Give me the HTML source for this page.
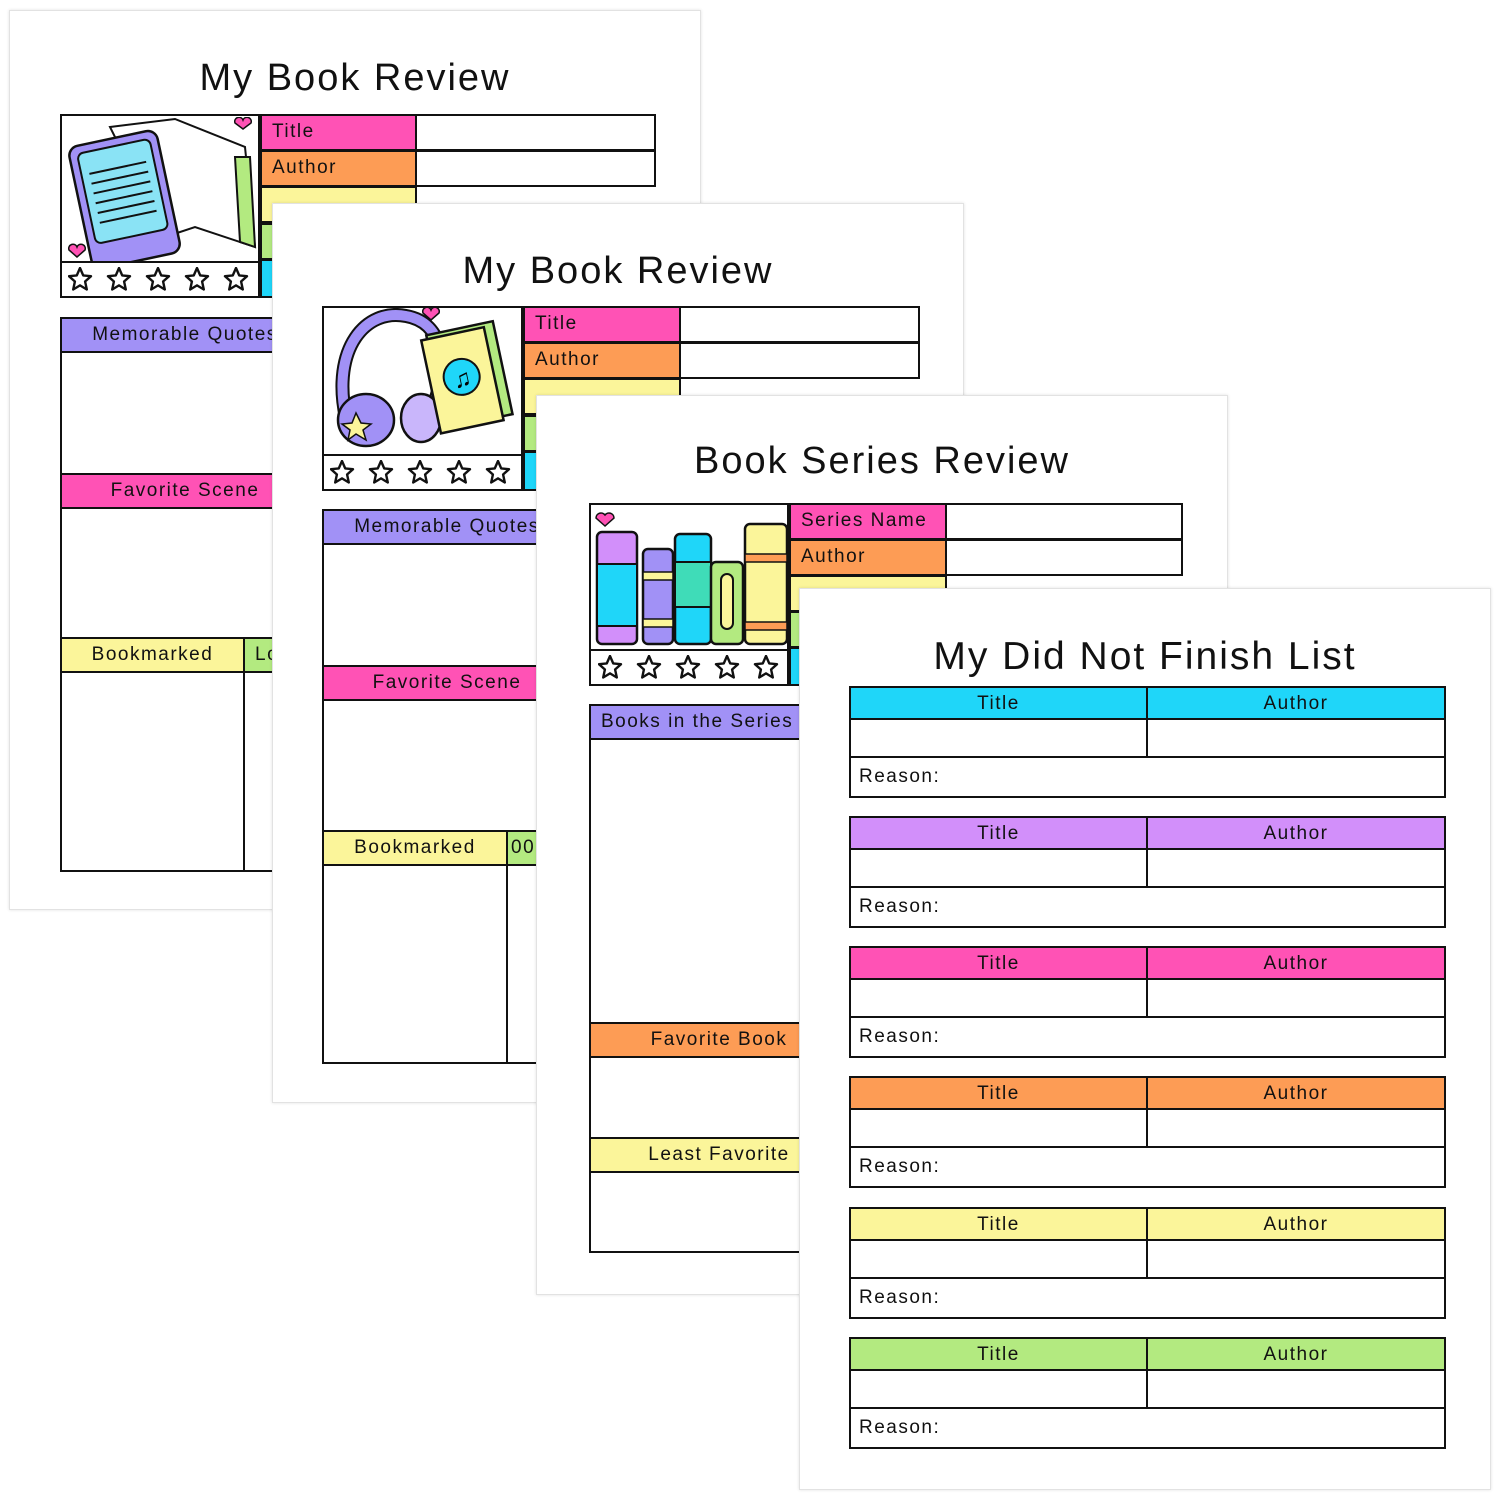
<!DOCTYPE html>
<html><head><meta charset="utf-8"><style>
*{margin:0;padding:0;box-sizing:border-box}
body{width:1500px;height:1500px;background:#fff;position:relative;overflow:hidden;font-family:"Liberation Sans",sans-serif;color:#111}
.pg{position:absolute;width:692px;height:900px;background:#fff;border:1px solid #e2e2e2;box-shadow:0 0 3px rgba(0,0,0,.12)}
.a{position:absolute}
.t{position:absolute;left:0;width:100%;text-align:center;font-size:38px;letter-spacing:2px;top:46px}
.c{position:absolute;border:2px solid #111;font-size:19px;letter-spacing:1.5px;padding-left:10px;line-height:32px;overflow:hidden;white-space:nowrap}
.ctr{text-align:center;padding-left:0}
.pink{background:#ff52b5}.or{background:#fd9c55}.ye{background:#fbf59a}.gr{background:#b3ea80}.cy{background:#1fd6f9}.pu{background:#a191f6}.la{background:#d28ffa}
</style></head><body>
<svg width="0" height="0" style="position:absolute"><defs><polygon id="s" points="12,1 15.2,8.4 23,9.2 17.1,14.5 18.8,22.5 12,18.4 5.2,22.5 6.9,14.5 1,9.2 8.8,8.4" fill="#fff" stroke="#111" stroke-width="2.4" stroke-linejoin="round"/></defs></svg>

<!-- PAGE 1 -->
<div class="pg" style="left:9px;top:10px">
 <div class="t">My Book Review</div>
 <div class="c" style="left:50px;top:103px;width:200px;height:184px;border-width:2.5px"></div>
 <svg class="a" style="left:55px;top:106px" width="192" height="146">
  <polygon points="45,10 110,2 180,30 190,130 130,110 100,120" fill="#fff" stroke="#111" stroke-width="2"/>
  <polygon points="170,40 185,40 190,130 175,125" fill="#b3ea80" stroke="#111" stroke-width="2"/>
  <g transform="rotate(-12 60 80)"><rect x="14" y="20" width="90" height="125" rx="10" fill="#a191f6" stroke="#111" stroke-width="2.5"/><rect x="22" y="28" width="74" height="92" rx="6" fill="#8ae3f5" stroke="#111" stroke-width="2"/>
  <g stroke="#111" stroke-width="2"><line x1="30" y1="50" x2="88" y2="50"/><line x1="30" y1="60" x2="88" y2="60"/><line x1="30" y1="70" x2="88" y2="70"/><line x1="30" y1="80" x2="88" y2="80"/><line x1="30" y1="90" x2="88" y2="90"/><line x1="30" y1="100" x2="88" y2="100"/></g></g>
  <path d="M178 12 l-8 -6 a4 4 0 0 1 8 -3 a4 4 0 0 1 8 3z" fill="#ff52b5" stroke="#111" stroke-width="1.5"/>
  <path d="M12 140 l-8 -7 a4 4 0 0 1 8 -3 a4 4 0 0 1 8 3z" fill="#ff52b5" stroke="#111" stroke-width="1.5"/>
 </svg>
 <div class="c" style="left:50px;top:250px;width:200px;height:37px;border-width:2px"></div>
 <svg class="a" style="left:58px;top:256px" width="190" height="26"><use href="#s" x="0"/><use href="#s" x="39"/><use href="#s" x="78"/><use href="#s" x="117"/><use href="#s" x="156"/></svg>
 <div class="c pink" style="left:250px;top:103px;width:157px;height:37px">Title</div>
 <div class="c" style="left:405px;top:103px;width:241px;height:37px"></div>
 <div class="c or" style="left:250px;top:139px;width:157px;height:37px">Author</div>
 <div class="c" style="left:405px;top:139px;width:241px;height:37px"></div>
 <div class="c ye" style="left:250px;top:175px;width:157px;height:37px"></div>
 <div class="c gr" style="left:250px;top:212px;width:157px;height:37px"></div>
 <div class="c cy" style="left:250px;top:248px;width:157px;height:39px"></div>
 <div class="c" style="left:50px;top:306px;width:596px;height:555px;border-width:2.5px"></div>
 <div class="c pu ctr" style="left:50px;top:306px;width:250px;height:36px">Memorable Quotes</div>
 <div class="c pink ctr" style="left:50px;top:462px;width:250px;height:36px">Favorite Scene</div>
 <div class="c ye ctr" style="left:50px;top:626px;width:185px;height:36px">Bookmarked</div>
 <div class="c gr" style="left:233px;top:626px;width:120px;height:36px">Lo</div>
 <div class="c" style="left:233px;top:660px;width:120px;height:201px"></div>
</div>

<!-- PAGE 2 -->
<div class="pg" style="left:272px;top:203px">
 <div class="t">My Book Review</div>
 <div class="c" style="left:49px;top:102px;width:201px;height:185px;border-width:2.5px"></div>
 <svg class="a" style="left:53px;top:104px" width="195" height="146">
  <path d="M20 110 C5 40 40 0 80 8 C120 15 120 60 110 90" fill="none" stroke="#111" stroke-width="14"/>
  <path d="M20 110 C5 40 40 0 80 8 C120 15 120 60 110 90" fill="none" stroke="#a191f6" stroke-width="10"/>
  <ellipse cx="40" cy="112" rx="28" ry="26" fill="#a191f6" stroke="#111" stroke-width="2.5"/>
  <ellipse cx="95" cy="110" rx="20" ry="24" fill="#c9b6fb" stroke="#111" stroke-width="2.5"/>
  <polygon points="30,105 35,115 45,116 37,122 40,132 30,126 22,132 24,122 16,116 26,115" fill="#fbf59a" stroke="#111" stroke-width="1.5"/>
  <g transform="rotate(-12 140 70)"><rect x="110" y="20" width="68" height="95" fill="#b3ea80" stroke="#111" stroke-width="2.5"/><rect x="104" y="24" width="64" height="95" fill="#fbf59a" stroke="#111" stroke-width="2.5"/><circle cx="136" cy="68" r="18" fill="#1fd6f9" stroke="#111" stroke-width="2"/><text x="127" y="78" font-size="24">♫</text></g>
  <path d="M105 12 l-8 -7 a4 4 0 0 1 8 -3 a4 4 0 0 1 8 3z" fill="#ff52b5" stroke="#111" stroke-width="1.5"/>
 </svg>
 <div class="c" style="left:49px;top:250px;width:201px;height:37px"></div>
 <svg class="a" style="left:57px;top:256px" width="190" height="26"><use href="#s" x="0"/><use href="#s" x="39"/><use href="#s" x="78"/><use href="#s" x="117"/><use href="#s" x="156"/></svg>
 <div class="c pink" style="left:250px;top:102px;width:158px;height:37px">Title</div>
 <div class="c" style="left:406px;top:102px;width:241px;height:37px"></div>
 <div class="c or" style="left:250px;top:138px;width:158px;height:37px">Author</div>
 <div class="c" style="left:406px;top:138px;width:241px;height:37px"></div>
 <div class="c ye" style="left:250px;top:174px;width:158px;height:37px"></div>
 <div class="c gr" style="left:250px;top:211px;width:158px;height:37px"></div>
 <div class="c cy" style="left:250px;top:247px;width:158px;height:40px"></div>
 <div class="c" style="left:49px;top:305px;width:596px;height:555px;border-width:2.5px"></div>
 <div class="c pu ctr" style="left:49px;top:305px;width:250px;height:36px">Memorable Quotes</div>
 <div class="c pink ctr" style="left:49px;top:461px;width:250px;height:36px">Favorite Scene</div>
 <div class="c ye ctr" style="left:49px;top:626px;width:186px;height:36px">Bookmarked</div>
 <div class="c gr" style="left:233px;top:626px;width:120px;height:36px;padding-left:3px">00:</div>
 <div class="c" style="left:233px;top:660px;width:120px;height:200px"></div>
</div>

<!-- PAGE 3 -->
<div class="pg" style="left:536px;top:395px">
 <div class="t" style="top:44px">Book Series Review</div>
 <div class="c" style="left:52px;top:107px;width:200px;height:183px;border-width:2.5px"></div>
 <svg class="a" style="left:56px;top:108px" width="194" height="146">
  <rect x="4" y="28" width="40" height="112" rx="5" fill="#d28ffa" stroke="#111" stroke-width="2.5"/>
  <rect x="4" y="60" width="40" height="62" fill="#1fd6f9" stroke="#111" stroke-width="2"/>
  <rect x="50" y="45" width="30" height="95" rx="5" fill="#a191f6" stroke="#111" stroke-width="2.5"/>
  <rect x="50" y="68" width="30" height="8" fill="#fbf59a" stroke="#111" stroke-width="1.5"/>
  <rect x="50" y="115" width="30" height="8" fill="#fbf59a" stroke="#111" stroke-width="1.5"/>
  <rect x="82" y="30" width="36" height="110" rx="5" fill="#1fd6f9" stroke="#111" stroke-width="2.5"/>
  <rect x="82" y="58" width="36" height="45" fill="#3fdcb8" stroke="#111" stroke-width="2"/>
  <rect x="118" y="58" width="32" height="82" rx="5" fill="#b3ea80" stroke="#111" stroke-width="2.5"/>
  <rect x="128" y="70" width="12" height="55" rx="6" fill="#fbf59a" stroke="#111" stroke-width="2"/>
  <rect x="152" y="20" width="42" height="120" rx="5" fill="#fbf59a" stroke="#111" stroke-width="2.5"/>
  <rect x="152" y="50" width="42" height="8" fill="#fd9c55" stroke="#111" stroke-width="1.5"/>
  <rect x="152" y="118" width="42" height="8" fill="#fd9c55" stroke="#111" stroke-width="1.5"/>
  <path d="M10 12 l-9 -8 a5 5 0 0 1 9 -3 a5 5 0 0 1 9 3z" fill="#ff52b5" stroke="#111" stroke-width="1.5" transform="translate(2 10)"/>
 </svg>
 <div class="c" style="left:52px;top:253px;width:200px;height:37px"></div>
 <svg class="a" style="left:61px;top:259px" width="190" height="26"><use href="#s" x="0"/><use href="#s" x="39"/><use href="#s" x="78"/><use href="#s" x="117"/><use href="#s" x="156"/></svg>
 <div class="c pink" style="left:252px;top:107px;width:158px;height:37px">Series Name</div>
 <div class="c" style="left:408px;top:107px;width:238px;height:37px"></div>
 <div class="c or" style="left:252px;top:143px;width:158px;height:37px">Author</div>
 <div class="c" style="left:408px;top:143px;width:238px;height:37px"></div>
 <div class="c ye" style="left:252px;top:179px;width:158px;height:37px"></div>
 <div class="c gr" style="left:252px;top:215px;width:158px;height:37px"></div>
 <div class="c cy" style="left:252px;top:251px;width:158px;height:39px"></div>
 <div class="c" style="left:52px;top:308px;width:594px;height:549px;border-width:2.5px"></div>
 <div class="c pu" style="left:52px;top:308px;width:260px;height:36px">Books in the Series</div>
 <div class="c or ctr" style="left:52px;top:626px;width:260px;height:36px">Favorite Book</div>
 <div class="c ye ctr" style="left:52px;top:741px;width:260px;height:36px">Least Favorite</div>
</div>

<!-- PAGE 4 -->
<div class="pg" style="left:799px;top:588px;height:902px">
 <div class="t" style="top:46px;font-size:39px">My Did Not Finish List</div>
 <div class="a" style="left:49px;top:97px;width:597px;height:112px">
  <div class="c cy ctr" style="left:0;top:0;width:299px;height:34px">Title</div>
  <div class="c cy ctr" style="left:297px;top:0;width:300px;height:34px">Author</div>
  <div class="c" style="left:0;top:32px;width:299px;height:40px"></div>
  <div class="c" style="left:297px;top:32px;width:300px;height:40px"></div>
  <div class="c" style="left:0;top:70px;width:597px;height:42px;line-height:38px;padding-left:8px">Reason:</div>
 </div>
 <div class="a" style="left:49px;top:227px;width:597px;height:112px">
  <div class="c la ctr" style="left:0;top:0;width:299px;height:34px">Title</div>
  <div class="c la ctr" style="left:297px;top:0;width:300px;height:34px">Author</div>
  <div class="c" style="left:0;top:32px;width:299px;height:40px"></div>
  <div class="c" style="left:297px;top:32px;width:300px;height:40px"></div>
  <div class="c" style="left:0;top:70px;width:597px;height:42px;line-height:38px;padding-left:8px">Reason:</div>
 </div>
 <div class="a" style="left:49px;top:357px;width:597px;height:112px">
  <div class="c pink ctr" style="left:0;top:0;width:299px;height:34px">Title</div>
  <div class="c pink ctr" style="left:297px;top:0;width:300px;height:34px">Author</div>
  <div class="c" style="left:0;top:32px;width:299px;height:40px"></div>
  <div class="c" style="left:297px;top:32px;width:300px;height:40px"></div>
  <div class="c" style="left:0;top:70px;width:597px;height:42px;line-height:38px;padding-left:8px">Reason:</div>
 </div>
 <div class="a" style="left:49px;top:487px;width:597px;height:112px">
  <div class="c or ctr" style="left:0;top:0;width:299px;height:34px">Title</div>
  <div class="c or ctr" style="left:297px;top:0;width:300px;height:34px">Author</div>
  <div class="c" style="left:0;top:32px;width:299px;height:40px"></div>
  <div class="c" style="left:297px;top:32px;width:300px;height:40px"></div>
  <div class="c" style="left:0;top:70px;width:597px;height:42px;line-height:38px;padding-left:8px">Reason:</div>
 </div>
 <div class="a" style="left:49px;top:618px;width:597px;height:112px">
  <div class="c ye ctr" style="left:0;top:0;width:299px;height:34px">Title</div>
  <div class="c ye ctr" style="left:297px;top:0;width:300px;height:34px">Author</div>
  <div class="c" style="left:0;top:32px;width:299px;height:40px"></div>
  <div class="c" style="left:297px;top:32px;width:300px;height:40px"></div>
  <div class="c" style="left:0;top:70px;width:597px;height:42px;line-height:38px;padding-left:8px">Reason:</div>
 </div>
 <div class="a" style="left:49px;top:748px;width:597px;height:112px">
  <div class="c gr ctr" style="left:0;top:0;width:299px;height:34px">Title</div>
  <div class="c gr ctr" style="left:297px;top:0;width:300px;height:34px">Author</div>
  <div class="c" style="left:0;top:32px;width:299px;height:40px"></div>
  <div class="c" style="left:297px;top:32px;width:300px;height:40px"></div>
  <div class="c" style="left:0;top:70px;width:597px;height:42px;line-height:38px;padding-left:8px">Reason:</div>
 </div>
</div>
</body></html>
